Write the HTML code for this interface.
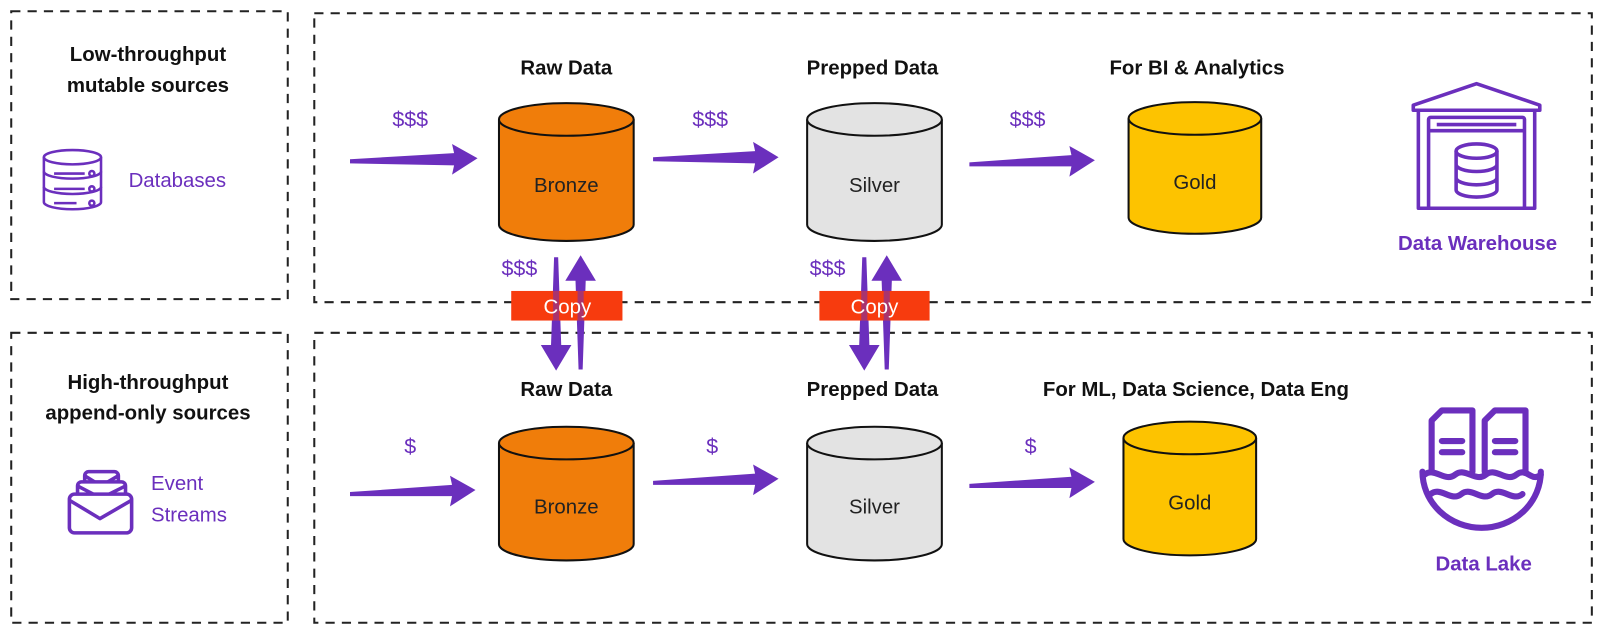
<!DOCTYPE html>
<html><head><meta charset="utf-8"><style>
html,body{margin:0;padding:0;background:#fff;}
svg{display:block;font-family:"Liberation Sans",sans-serif;}
</style></head><body>
<svg width="1600" height="636" viewBox="0 0 1568 623" preserveAspectRatio="none" xmlns="http://www.w3.org/2000/svg">
<g fill="none" stroke="#222" stroke-width="2" stroke-dasharray="9,7">
<rect x="11" y="11" width="271" height="282"/>
<rect x="11" y="326" width="271" height="284"/>
<rect x="308" y="13" width="1252" height="283"/>
<rect x="308" y="326" width="1252" height="284"/>
</g>
<g font-weight="bold" font-size="20" fill="#111" text-anchor="middle">
<text x="145" y="60">Low-throughput</text>
<text x="145" y="90">mutable sources</text>
<text x="145" y="381">High-throughput</text>
<text x="145" y="411">append-only sources</text>
<text x="555" y="73">Raw Data</text>
<text x="855" y="73">Prepped Data</text>
<text x="1173" y="73">For BI &amp; Analytics</text>
<text x="555" y="388">Raw Data</text>
<text x="855" y="388">Prepped Data</text>
<text x="1172" y="388">For ML, Data Science, Data Eng</text>
</g>
<g font-weight="bold" font-size="20" fill="#6b2fbd" text-anchor="middle">
<text x="1448" y="245">Data Warehouse</text>
<text x="1454" y="559">Data Lake</text>
</g>
<g font-size="20" fill="#6b2fbd">
<text x="126" y="183">Databases</text>
<text x="148" y="480">Event</text>
<text x="148" y="511">Streams</text>
</g>
<g font-size="21" fill="#6b2fbd" text-anchor="middle">
<text x="402" y="124">$$$</text>
<text x="696" y="124">$$$</text>
<text x="1007" y="124">$$$</text>
<text x="509" y="270">$$$</text>
<text x="811" y="270">$$$</text>
<text x="402" y="444">$</text>
<text x="698" y="444">$</text>
<text x="1010" y="444">$</text>
</g>
<g stroke="#111" stroke-width="2">
<path d="M489,117 v103 a66,16 0 0 0 132,0 v-103" fill="#f07d0a"/><ellipse cx="555" cy="117" rx="66" ry="16" fill="#f07d0a"/>
<path d="M791,117 v103 a66,16 0 0 0 132,0 v-103" fill="#e3e3e3"/><ellipse cx="857" cy="117" rx="66" ry="16" fill="#e3e3e3"/>
<path d="M1106,116 v97 a65,16 0 0 0 130,0 v-97" fill="#fdc300"/><ellipse cx="1171" cy="116" rx="65" ry="16" fill="#fdc300"/>
<path d="M489,434 v99 a66,16 0 0 0 132,0 v-99" fill="#f07d0a"/><ellipse cx="555" cy="434" rx="66" ry="16" fill="#f07d0a"/>
<path d="M791,434 v99 a66,16 0 0 0 132,0 v-99" fill="#e3e3e3"/><ellipse cx="857" cy="434" rx="66" ry="16" fill="#e3e3e3"/>
<path d="M1101,429 v99 a65,16 0 0 0 130,0 v-99" fill="#fdc300"/><ellipse cx="1166" cy="429" rx="65" ry="16" fill="#fdc300"/>
</g>
<g font-size="20" fill="#222" text-anchor="middle">
<text x="555" y="188">Bronze</text>
<text x="857" y="188">Silver</text>
<text x="1171" y="185">Gold</text>
<text x="555" y="503">Bronze</text>
<text x="857" y="503">Silver</text>
<text x="1166" y="499">Gold</text>
</g>
<g fill="#6b2fbd">
<polygon points="343,156 445,150 443,141 468,155 443,171 445,162 343,160"/>
<polygon points="640,154 740,148 738,139 763,154 738,170 740,160 640,158"/>
<polygon points="950,159 1050,152 1048,143 1073,157 1048,173 1050,163 950,163"/>
<polygon points="343,482 443,475 441,466 466,480 441,496 443,486 343,486"/>
<polygon points="640,471 740,464 738,455 763,469 738,485 740,475 640,475"/>
<polygon points="950,474 1050,467 1048,458 1073,472 1048,488 1050,478 950,478"/>
<polygon points="543,252 547,252 550,338 560,338 545,363 530,338 540,338"/>
<polygon points="567,362 571,362 574,275 584,275 569,250 554,275 564,275"/>
<polygon points="845,252 849,252 852,338 862,338 847,363 832,338 842,338"/>
<polygon points="867,362 871,362 874,275 884,275 869,250 854,275 864,275"/>
</g>
<g>
<rect x="501" y="285" width="109" height="29" fill="#f73b0e"/>
<rect x="803" y="285" width="108" height="29" fill="#f73b0e"/>
<path d="M545,285 v29 M569,285 v29 M847,285 v29 M869,285 v29" stroke="#6b2fbd" stroke-width="6" opacity="0.55"/>
<text x="556" y="307" font-size="20" fill="#fff" text-anchor="middle">Copy</text>
<text x="857" y="307" font-size="20" fill="#fff" text-anchor="middle">Copy</text>
</g>
<g fill="none" stroke="#6b2fbd" stroke-width="2.5">
<ellipse cx="71" cy="154" rx="28" ry="7"/>
<path d="M43,154 v44 a28,7 0 0 0 56,0 v-44"/>
<path d="M43,168 a28,7 0 0 0 56,0 M43,183 a28,7 0 0 0 56,0"/>
<path d="M53,170 h30 M53,185 h30 M53,199 h22"/>
<circle cx="90" cy="170" r="2.5"/><circle cx="90" cy="185" r="2.5"/><circle cx="90" cy="199" r="2.5"/>
</g>
<g fill="#fff" stroke="#6b2fbd" stroke-width="3.5" stroke-linejoin="round">
<rect x="83" y="462" width="33" height="20" rx="4"/>
<path d="M83,466 l16,10 l17,-10"/>
<rect x="76" y="472" width="47" height="20" rx="4"/>
<path d="M76,476 l23,12 l24,-12"/>
<rect x="68" y="484" width="61" height="38" rx="5"/>
<path d="M68,490 l30,18 l31,-18"/>
</g>
<g fill="none" stroke="#6b2fbd" stroke-width="3.5" stroke-linejoin="round">
<path d="M1385,103 l62,-21 l62,21 v5 h-124 z"/>
<path d="M1390,108 v96 h114 v-96"/>
<rect x="1400" y="115" width="94" height="89" rx="2"/>
<path d="M1400,128 h94 M1408,122 h78"/>
<ellipse cx="1447" cy="148" rx="20" ry="7"/>
<path d="M1427,148 v38 a20,7 0 0 0 40,0 v-38 M1427,161 a20,7 0 0 0 40,0 M1427,174 a20,7 0 0 0 40,0"/>
</g>
<g fill="none" stroke="#6b2fbd" stroke-width="6" stroke-linejoin="round" stroke-linecap="round">
<path d="M1403,462 v-50 l10,-10 h30 v60"/>
<path d="M1455,462 v-50 l10,-10 h30 v60"/>
<path d="M1413,432 h20 M1413,443 h20 M1465,432 h20 M1465,443 h20"/>
<path d="M1396,465 c10,-8 20,8 30,0 s20,8 30,0 s20,8 30,0 s15,8 24,0"/>
<path d="M1402,484 c10,-8 20,8 30,0 s20,8 30,0 s20,8 30,0"/>
<path d="M1394,462 a58,55 0 0 0 116,0"/>
</g>
</svg>
</body></html>
